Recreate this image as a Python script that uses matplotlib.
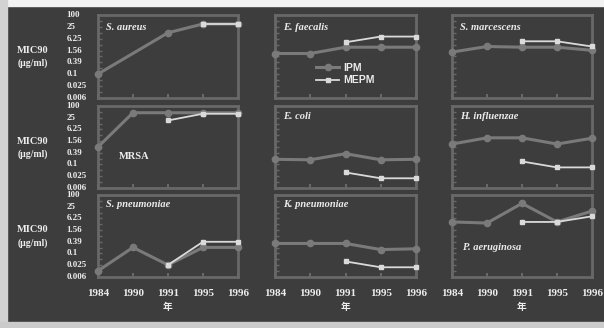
import numpy as np
import matplotlib
matplotlib.use('Agg')
import matplotlib.pyplot as plt
from matplotlib.transforms import blended_transform_factory
from matplotlib.patches import Rectangle

nan = np.nan

years = ['1984', '1990', '1991', '1995', '1996']
y_ticks = [100, 25, 6.25, 1.56, 0.39, 0.1, 0.025, 0.006]
y_tick_labels = ['100', '25', '6.25', '1.56', '0.39', '0.1', '0.025', '0.006']

# MIC90 (ug/ml) per organism, one value per year, nan = not tested
s_aureus_ipm = [0.1, nan, 12.5, 35, 35]
s_aureus_mepm = [nan, nan, nan, 35, 35]
e_faecalis_ipm = [1.1, 1.1, 2.3, 2.3, 2.3]
e_faecalis_mepm = [nan, nan, 4.1, 8, 8]
s_marcescens_ipm = [1.3, 2.5, 2.3, 2.3, 1.6]
s_marcescens_mepm = [nan, nan, 4.6, 4.6, 2.5]
mrsa_ipm = [0.78, 45, 45, 45, 45]
mrsa_mepm = [nan, nan, 18, 40, 40]
e_coli_ipm = [0.18, 0.17, 0.35, 0.17, 0.18]
e_coli_mepm = [nan, nan, 0.038, 0.019, 0.019]
h_influenzae_ipm = [1.1, 2.3, 2.3, 1.1, 2.2]
h_influenzae_mepm = [nan, nan, 0.14, 0.069, 0.069]
s_pneumoniae_ipm = [0.0125, 0.2, 0.025, 0.2, 0.2]
s_pneumoniae_mepm = [nan, nan, 0.025, 0.39, 0.39]
k_pneumoniae_ipm = [0.32, 0.32, 0.32, 0.155, 0.17]
k_pneumoniae_mepm = [nan, nan, 0.038, 0.019, 0.019]
p_aeruginosa_ipm = [4.1, 3.6, 37, 4.1, 15]
p_aeruginosa_mepm = [nan, nan, 4.1, 4.1, 8]

panels = [
    [('S. aureus', s_aureus_ipm, s_aureus_mepm),
     ('E. faecalis', e_faecalis_ipm, e_faecalis_mepm),
     ('S. marcescens', s_marcescens_ipm, s_marcescens_mepm)],
    [('MRSA', mrsa_ipm, mrsa_mepm),
     ('E. coli', e_coli_ipm, e_coli_mepm),
     ('H. influenzae', h_influenzae_ipm, h_influenzae_mepm)],
    [('S. pneumoniae', s_pneumoniae_ipm, s_pneumoniae_mepm),
     ('K. pneumoniae', k_pneumoniae_ipm, k_pneumoniae_mepm),
     ('P. aeruginosa', p_aeruginosa_ipm, p_aeruginosa_mepm)],
]

W, H = 604, 328
bg = '#3d3d3d'
frame = '#686868'
ipm_color = '#7a7a7a'
mepm_color = '#dadada'
text_color = '#ececec'
serif = ['Liberation Serif', 'Noto Sans CJK JP']

col_x = [(98, 238), (275, 416), (452, 592)]
row_y = [(15, 98), (106, 188), (195, 277)]

fig = plt.figure(figsize=(W / 100, H / 100), dpi=100, facecolor=bg)

# light slide edges
fig.patches.append(Rectangle((0, 1 - 6 / H), 1, 6 / H, transform=fig.transFigure,
                             color='#f2f2f2', zorder=0))
fig.patches.append(Rectangle((0, 0), 7 / W, 1, transform=fig.transFigure,
                             color='#d2d2d2', zorder=0))
fig.patches.append(Rectangle((0, 0), 1, 6 / H, transform=fig.transFigure,
                             color='#cbcbcb', zorder=0))


def plot_series(ax, values, color, lw, marker, ms, z):
    x = [i for i, v in enumerate(values) if not np.isnan(v)]
    y = [v for v in values if not np.isnan(v)]
    ax.plot(x, y, color=color, lw=lw, marker=marker, ms=ms, mfc=color, mec=color,
            zorder=z, clip_on=False)


for r in range(3):
    for c in range(3):
        name, ipm, mepm = panels[r][c]
        x0, x1 = col_x[c]
        y0, y1 = row_y[r]
        ax = fig.add_axes([x0 / W, 1 - y1 / H, (x1 - x0) / W, (y1 - y0) / H])
        ax.set_facecolor('none')
        ax.set_yscale('log')
        ax.set_xlim(0, 4)
        ax.set_ylim(0.006, 100)
        for s in ax.spines.values():
            s.set_color(frame)
            s.set_linewidth(2.0)
        ax.set_yticks(y_ticks)
        ax.set_yticks([np.sqrt(a * b) for a, b in zip(y_ticks[:-1], y_ticks[1:])], minor=True)
        ax.tick_params(axis='y', which='both', direction='in', length=3, width=1,
                       color=frame, labelleft=False)
        ax.set_xticks(range(5))
        ax.tick_params(axis='x', direction='in', length=3, width=1.5, color=frame,
                       labelbottom=(r == 2), pad=8.5, labelcolor=text_color)
        ax.set_xticklabels(years, fontfamily=serif, fontweight='bold', fontsize=8)

        plot_series(ax, ipm, ipm_color, 2.2, 'o', 4.5, 3)
        plot_series(ax, mepm, mepm_color, 1.3, 's', 3.5, 4)

        if name == 'MRSA':
            ax.text(0.15, 0.38, name, transform=ax.transAxes, color=text_color,
                    fontfamily=serif, fontweight='bold', fontsize=7.5, va='center')
        elif name == 'P. aeruginosa':
            ax.text(0.08, 0.355, name, transform=ax.transAxes, color=text_color,
                    fontfamily=serif, fontweight='bold', style='italic', fontsize=7.5,
                    va='center')
        else:
            ty = [0.855, 0.866, 0.88][r]
            ax.text(0.06, ty, name, transform=ax.transAxes, color=text_color,
                    fontfamily=serif, fontweight='bold', style='italic', fontsize=7.5,
                    va='center')

        if c == 0:
            tr = blended_transform_factory(ax.transAxes, ax.transData)
            for v, lab in zip(y_ticks, y_tick_labels):
                ax.text(-0.225, v, lab, transform=tr, color=text_color, fontfamily=serif,
                        fontweight='bold', fontsize=6.5, ha='left', va='center')
            ymid = (y0 + y1) / 2
            fig.text(33 / W, 1 - (ymid - 6) / H, 'MIC90', color=text_color, fontfamily=serif,
                     fontweight='bold', fontsize=7.5, ha='center', va='center')
            fig.text(33 / W, 1 - (ymid + 7) / H, '(\u03bcg/ml)', color=text_color,
                     fontfamily=serif, fontweight='bold', fontsize=7, ha='center', va='center')

        if r == 2:
            ax.text(2, -0.37, '年', transform=blended_transform_factory(ax.transData, ax.transAxes),
                    color=text_color, fontfamily=serif, fontweight='bold', fontsize=7,
                    ha='center', va='center')

        if name == 'E. faecalis':
            ax.plot([], [], color=ipm_color, lw=2.2, marker='o', ms=4.5, label='IPM')
            ax.plot([], [], color=mepm_color, lw=1.3, marker='s', ms=3.5, label='MEPM')
            leg = ax.legend(loc='center', bbox_to_anchor=(0.5, 0.29), frameon=False,
                            handlelength=2.2, handletextpad=0.4, labelspacing=0.25,
                            prop={'family': 'Liberation Sans', 'weight': 'bold', 'size': 7.5})
            for t in leg.get_texts():
                t.set_color(text_color)

fig.savefig('out.png', dpi=100, facecolor=bg)
